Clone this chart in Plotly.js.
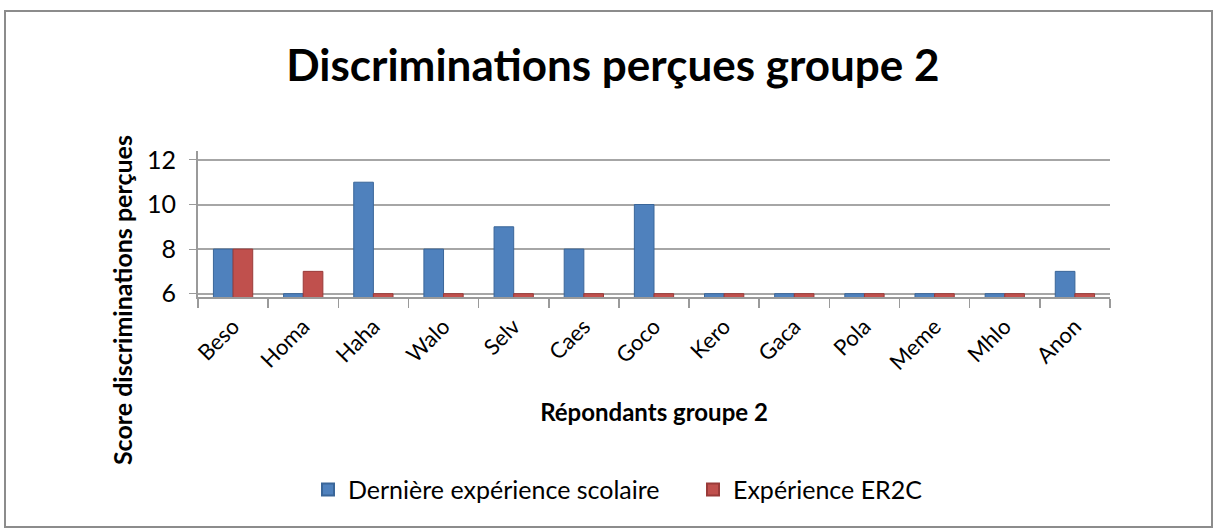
<!DOCTYPE html>
<html><head><meta charset="utf-8">
<script src="https://cdn.plot.ly/plotly-3.0.1.min.js"></script>
<style>
html,body{margin:0;padding:0;background:#fff;}
#wrap{position:relative;width:1216px;height:530px;}
#chart{position:absolute;left:0;top:0;width:1216px;height:530px;}
#frame{position:absolute;left:4px;top:10px;width:1205px;height:514px;border:2px solid #8c8c8c;pointer-events:none;}
</style></head>
<body><div id="wrap"><div id="chart"></div><div id="frame"></div></div>
<script>
const categories = ["Beso","Homa","Haha","Walo","Selv","Caes","Goco","Kero","Gaca","Pola","Meme","Mhlo","Anon"];
const scolaire = [8, 6, 11, 8, 9, 8, 10, 6, 6, 6, 6, 6, 7];
const er2c = [8, 7, 6, 6, 6, 6, 6, 6, 6, 6, 6, 6, 6];
const yTicks = [6, 8, 10, 12];
const seriesNames = ["Dernière expérience scolaire", "Expérience ER2C"];
const yTitle = "Score discriminations perçues";

const FONT = "Lato, 'Open Sans', sans-serif";
const traces = [
  {type:"bar", name:seriesNames[0], x:categories, y:scolaire,
   marker:{color:"#4F81BD", line:{color:"#3A6699", width:1}}},
  {type:"bar", name:seriesNames[1], x:categories, y:er2c,
   marker:{color:"#C0504D", line:{color:"#9A3B39", width:1}}}
];
const layout = {
  width:1216, height:530,
  paper_bgcolor:"rgba(0,0,0,0)", plot_bgcolor:"rgba(0,0,0,0)",
  margin:{l:198, r:106, t:151, b:233},
  font:{family:FONT, color:"#000"},
  title:{text:"<b>Discriminations perçues groupe 2</b>", font:{size:44, family:FONT, color:"#000"},
         x:0.504, xanchor:"center", y:0.877, yanchor:"middle", yref:"container"},
  barmode:"group", bargap:0.44, bargroupgap:0,
  xaxis:{type:"category", tickangle:-45, tickfont:{size:22, family:FONT},
         showline:true, linecolor:"#9a9a9a", linewidth:2,
         ticks:"outside", tickson:"boundaries", ticklen:9, tickcolor:"#9a9a9a", tickwidth:1.5,
         ticklabelstandoff:6,
         showgrid:false,
         title:{text:"<b>Répondants groupe 2</b>", font:{size:24, family:FONT}, standoff:30}},
  yaxis:{range:[5.85, 12.4], tickvals:yTicks, ticktext:yTicks.map(String),
         tickfont:{size:25, family:FONT},
         showline:true, linecolor:"#9a9a9a", linewidth:2,
         ticks:"outside", ticklen:7, tickcolor:"#9a9a9a", ticklabelstandoff:8,
         showgrid:true, gridcolor:"#a6a6a6", gridwidth:2, zeroline:false},
  annotations:[{text:"<b>"+yTitle+"</b>", textangle:-90, showarrow:false,
                xref:"paper", yref:"paper", x:-0.0833, y:-0.021, xanchor:"center", yanchor:"middle",
                font:{size:25, family:FONT, color:"#000"}}],
  legend:{orientation:"h", x:0.1206, xanchor:"left", y:-1.32, yanchor:"middle",
          font:{size:25, family:FONT}, itemsizing:"constant", entrywidth:340},
  showlegend:true
};
Plotly.newPlot("chart", traces, layout, {displayModeBar:false, staticPlot:true});
</script></body></html>
